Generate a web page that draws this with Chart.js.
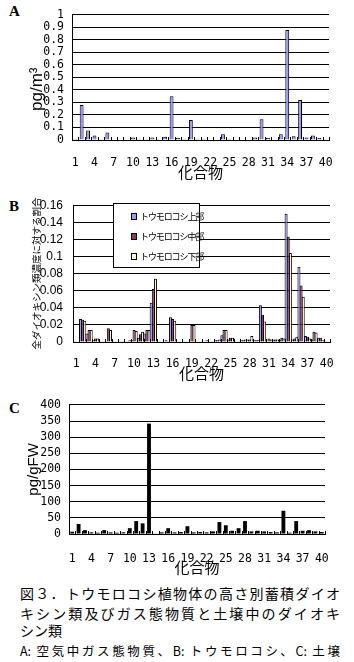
<!DOCTYPE html>
<html>
<head>
<meta charset="utf-8">
<script src="https://cdn.jsdelivr.net/npm/chart.js@4"></script>
<style>
body { margin: 0; background: #fff; width: 354px; height: 662px; position: relative; overflow: hidden; font-family: "Noto Sans CJK JP", sans-serif; color: #000; }
canvas { position: absolute; left: 0; }
.tag { position: absolute; left: 9px; font: bold 15px "Liberation Serif", serif; }
#legendB { position: absolute; left: 113px; top: 203px; width: 85px; height: 63px; border: 1px solid #000; background: #fff; font-size: 9px; letter-spacing: -1.1px; }
#legendB div { position: absolute; left: 17px; line-height: 12px; white-space: nowrap; }
#legendB span { display: inline-block; width: 4px; height: 5px; border: 1px solid #000; margin-right: 3px; vertical-align: 0; }
.cap { position: absolute; left: 20px; width: 320px; font-size: 14px; line-height: 18px; text-align: justify; text-align-last: justify; white-space: nowrap; }
</style>
</head>
<body>
<div class="tag" style="top:3px">A</div>
<div class="tag" style="top:198px">B</div>
<div class="tag" style="top:400px">C</div>
<canvas id="chartA" width="354" height="182" style="top:0"></canvas>
<canvas id="chartB" width="354" height="196" style="top:188px"></canvas>
<canvas id="chartC" width="354" height="186" style="top:390px"></canvas>
<div id="legendB">
  <div style="top:7px"><span style="background:#9999ff"></span>トウモロコシ上部</div>
  <div style="top:27px"><span style="background:#993366"></span>トウモロコシ中部</div>
  <div style="top:47px"><span style="background:#ffffcc"></span>トウモロコシ下部</div>
</div>
<div class="cap" style="top:584px">図３．トウモロコシ植物体の高さ別蓄積ダイオ</div>
<div class="cap" style="top:604px">キシン類及びガス態物質と土壌中のダイオキ</div>
<div class="cap" style="top:621px;text-align-last:left">シン類</div>
<div class="cap" style="top:642px;font-size:12.5px">A: 空気中ガス態物質、B: トウモロコシ、C: 土壌</div>
<script>
const compounds = Array.from({length: 40}, (_, i) => String(i + 1));

// A: gas phase in air (pg/m3)
const gasAir = [0.01, 0.28, 0.075, 0.035, 0.005, 0.06, 0, 0, 0, 0.02,
  0.01, 0.005, 0.02, 0.005, 0.025, 0.35, 0.015, 0.01, 0.16, 0.01,
  0.01, 0, 0, 0.045, 0.01, 0, 0, 0, 0.02, 0.165,
  0.015, 0, 0.045, 0.88, 0.03, 0.32, 0.02, 0.035, 0.015, 0];

// B: ratio to total dioxins, by plant height
const cornUpper = [0.001, 0.027, 0.010, 0.002, 0.001, 0.001, 0.001, 0.001, 0.001, 0.002,
  0.005, 0.010, 0.046, 0.001, 0.001, 0.029, 0.001, 0.001, 0.001, 0.001,
  0.001, 0.001, 0.002, 0.008, 0.003, 0.001, 0.002, 0.003, 0.002, 0.043,
  0.001, 0.003, 0.002, 0.150, 0.003, 0.088, 0.007, 0.003, 0.005, 0.001];
const cornMiddle = [0.001, 0.026, 0.014, 0.004, 0.001, 0.016, 0.001, 0.001, 0.001, 0.014,
  0.009, 0.014, 0.062, 0.001, 0.002, 0.027, 0.001, 0.001, 0.020, 0.001,
  0.001, 0.001, 0.002, 0.014, 0.005, 0.001, 0.002, 0.003, 0.002, 0.032,
  0.004, 0.003, 0.005, 0.123, 0.004, 0.066, 0.006, 0.012, 0.005, 0.001];
const cornLower = [0.001, 0.025, 0.014, 0.004, 0.001, 0.014, 0.001, 0.001, 0.002, 0.013,
  0.012, 0.014, 0.074, 0.001, 0.001, 0.025, 0.001, 0.001, 0.020, 0.001,
  0.002, 0.001, 0.003, 0.014, 0.005, 0.001, 0.003, 0.007, 0.002, 0.024,
  0.003, 0.003, 0.004, 0.104, 0.006, 0.053, 0.004, 0.011, 0.002, 0.001];

// C: soil (pg/gFW)
const soil = [7, 31, 12, 5, 4, 12, 5, 4, 5, 18,
  40, 33, 342, 2, 5, 18, 5, 6, 24, 5,
  6, 5, 8, 37, 27, 10, 18, 40, 8, 10,
  8, 6, 5, 72, 4, 40, 10, 12, 8, 6];

Chart.defaults.color = '#000';
Chart.defaults.font.family = '"Noto Sans CJK JP", sans-serif';

// small tick marks at category boundaries, pointing into the plot
const innerTicks = {
  id: 'innerTicks',
  afterDatasetsDraw(chart) {
    const x = chart.scales.x, y = chart.scales.y, ctx = chart.ctx;
    const n = chart.data.labels.length;
    const step = (x.right - x.left) / n;
    ctx.save();
    ctx.strokeStyle = '#000';
    ctx.lineWidth = 1;
    ctx.beginPath();
    for (let i = 1; i <= n; i++) {
      const px = Math.round(x.left + i * step) + 0.5;
      ctx.moveTo(px, y.bottom);
      ctx.lineTo(px, y.bottom - 3);
    }
    ctx.stroke();
    ctx.restore();
  }
};

const monoFont = { family: '"DejaVu Sans Mono", monospace', size: 11.5 };

function makeChart(id, datasets, o) {
  return new Chart(document.getElementById(id), {
    type: 'bar',
    data: { labels: compounds, datasets: datasets },
    plugins: [innerTicks],
    options: {
      responsive: false,
      animation: false,
      devicePixelRatio: 1,
      layout: { padding: { top: o.top, right: o.right, left: 0, bottom: 0 } },
      plugins: { legend: { display: false }, tooltip: { enabled: false } },
      scales: {
        x: {
          afterFit: s => { s.height = o.xHeight; },
          grid: { display: false },
          border: { color: '#000' },
          ticks: {
            autoSkip: false, maxRotation: 0, padding: o.xPad, font: monoFont,
            callback: (v, i) => i % 3 === 0 ? compounds[i] : ''
          },
          title: { display: true, text: '化合物', font: { size: 15 }, padding: { top: 0, bottom: o.xTitlePad } }
        },
        y: {
          min: 0, max: o.max,
          afterFit: s => { s.width = o.left; },
          grid: { color: '#000', drawTicks: false },
          border: { color: '#000' },
          ticks: { autoSkip: false, stepSize: o.step, padding: o.yPad, font: o.yTickFont || monoFont,
            callback: v => String(+v.toFixed(3)) },
          title: { display: true, text: o.yTitle, font: o.yTitleFont, padding: { top: o.yTitlePad, bottom: 0 } }
        }
      }
    }
  });
}

makeChart('chartA', [{
  data: gasAir, backgroundColor: '#9999ff', borderColor: '#000', borderWidth: 1,
  categoryPercentage: 1, barPercentage: 0.6
}], { top: 6, right: 25, left: 72, xHeight: 42, xPad: 8, xTitlePad: 1,
  max: 1, step: 0.1, yPad: 8,
  yTitle: 'pg/m³\u00a0\u00a0\u00a0\u00a0\u00a0', yTitleFont: { family: '"Liberation Sans", sans-serif', size: 17 }, yTitlePad: 27 });

makeChart('chartB', [
  { data: cornUpper, backgroundColor: '#9999ff', borderColor: '#000', borderWidth: 1, categoryPercentage: 1, barPercentage: 1.4 },
  { data: cornMiddle, backgroundColor: '#993366', borderColor: '#000', borderWidth: 1, categoryPercentage: 1, barPercentage: 1.4 },
  { data: cornLower, backgroundColor: '#ffffcc', borderColor: '#000', borderWidth: 1, categoryPercentage: 1, barPercentage: 1.4 }
], { top: 12, right: 24, left: 73, xHeight: 42, xPad: 7, xTitlePad: 2,
  yTickFont: { family: '"Liberation Sans", sans-serif', size: 12 },
  max: 0.16, step: 0.02, yPad: 10,
  yTitle: '全ダイオキシン類濃度に対する割合', yTitleFont: { size: 9.5 }, yTitlePad: 31 });

makeChart('chartC', [{
  data: soil, backgroundColor: '#000', borderWidth: 0,
  categoryPercentage: 1, barPercentage: 0.6
}], { top: 11, right: 29, left: 69, xHeight: 42, xPad: 10, xTitlePad: 0,
  max: 400, step: 50, yPad: 8,
  yTitle: 'pg/gFW', yTitleFont: { family: '"Liberation Sans", sans-serif', size: 15 }, yTitlePad: 25 });
</script>
</body>
</html>
